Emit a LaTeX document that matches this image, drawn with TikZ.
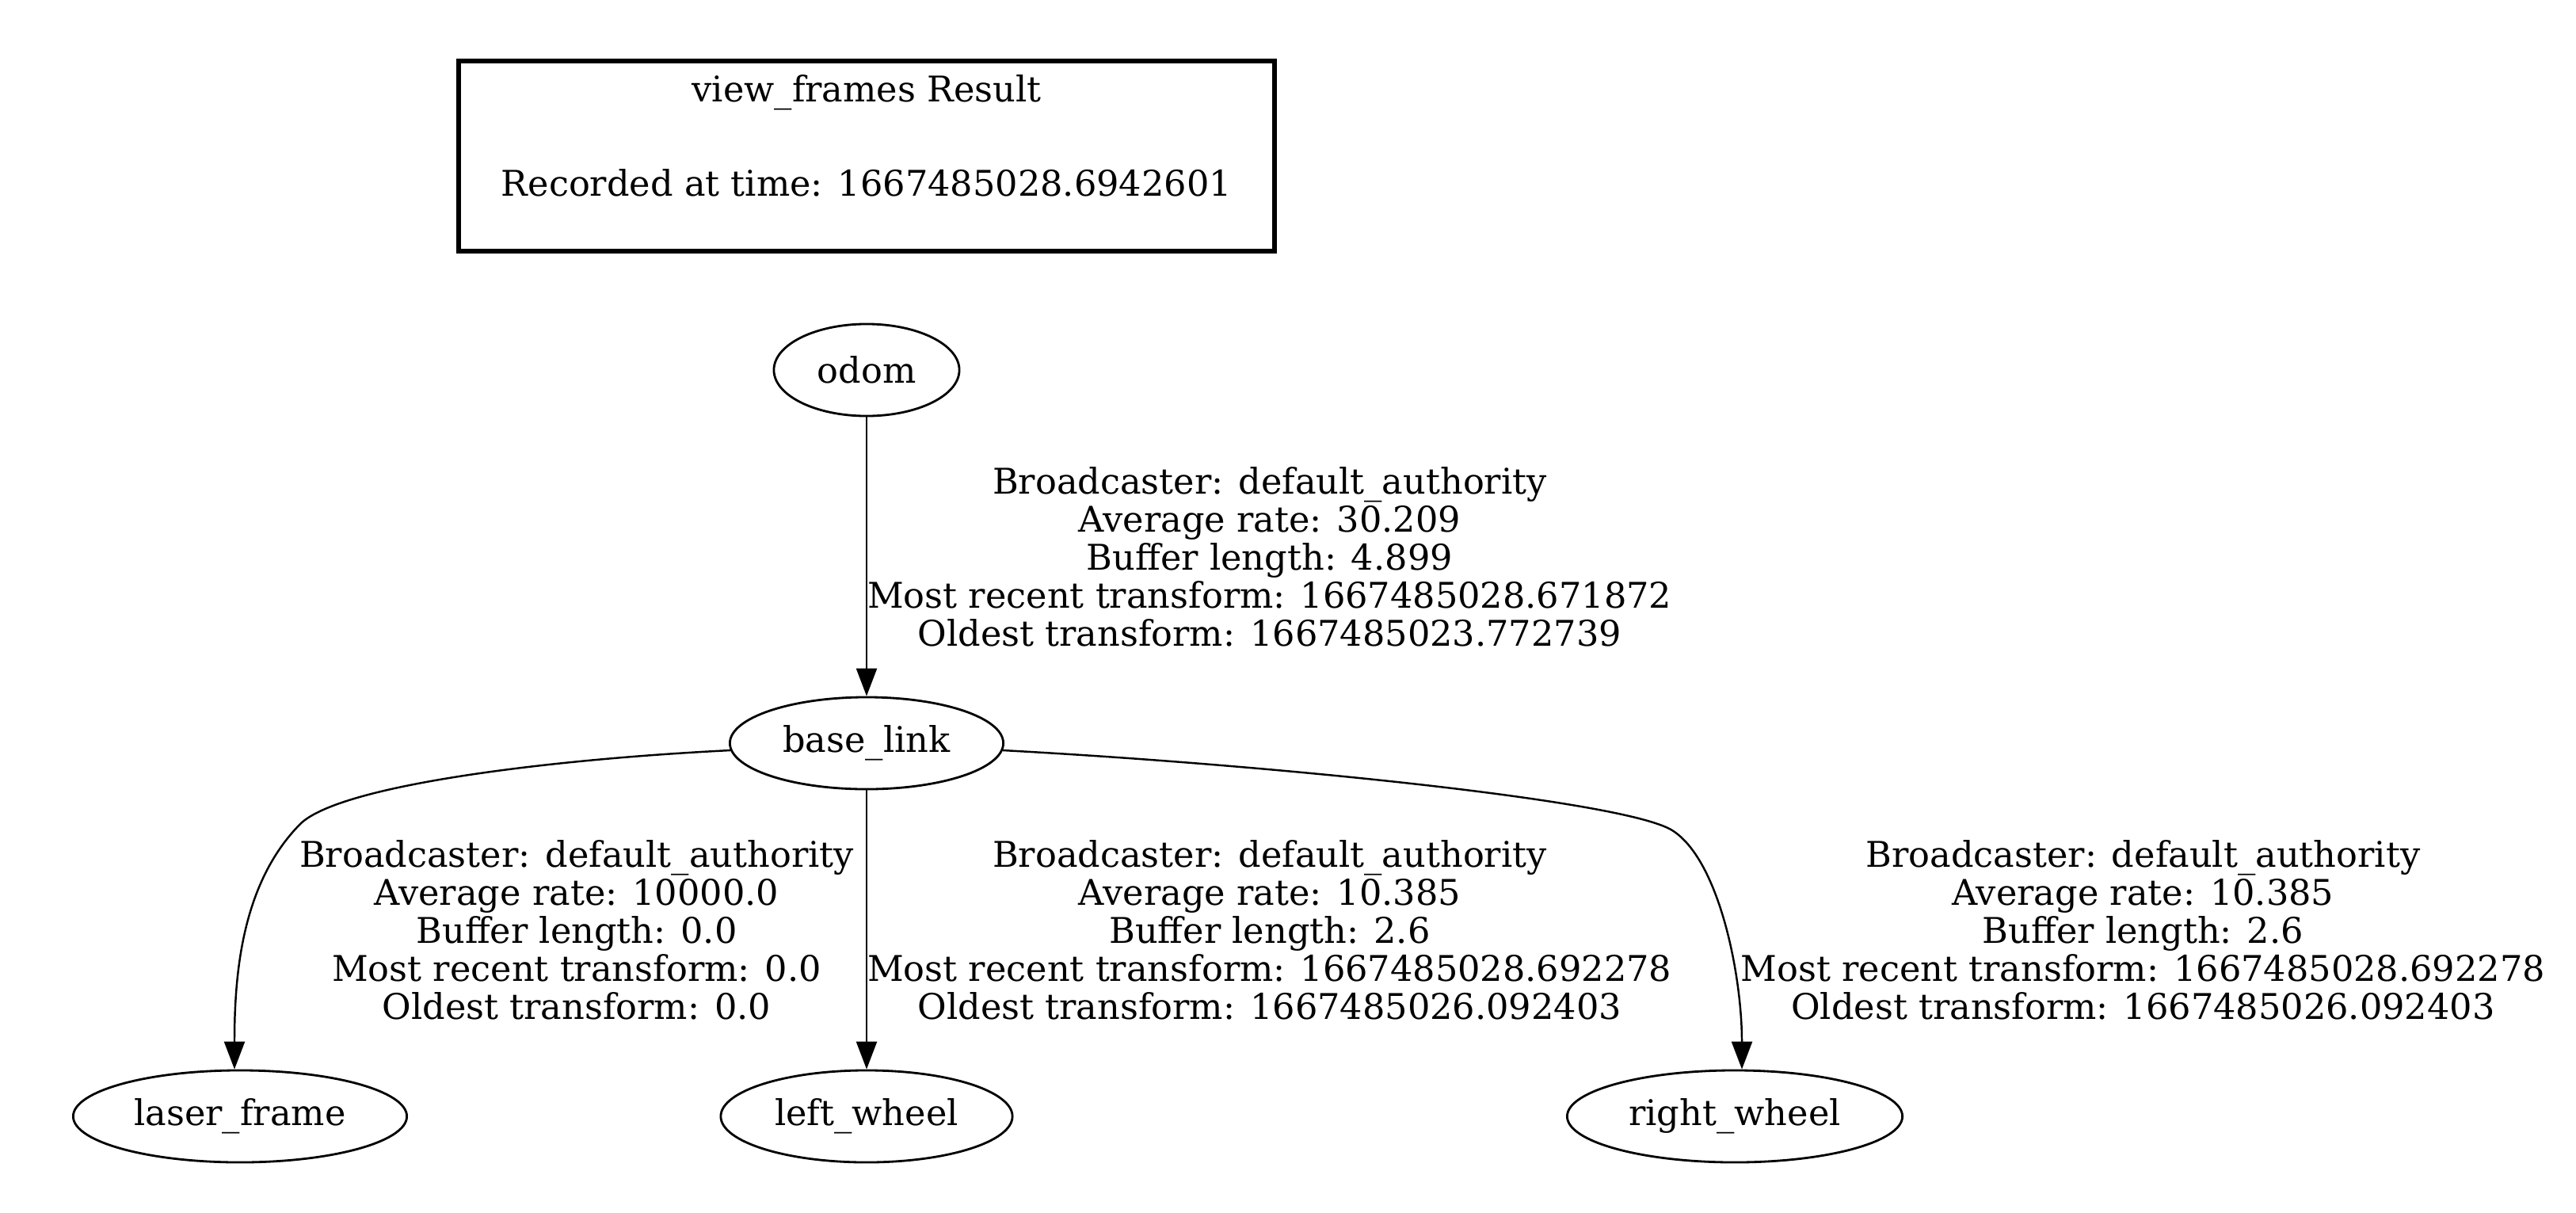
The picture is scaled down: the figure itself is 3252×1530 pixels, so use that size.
\documentclass[tikz,border=0pt]{standalone}
\usepackage{fontspec}
\setmainfont{DejaVu Serif}
\usetikzlibrary{shapes.geometric,arrows.meta}

\newcommand\gvfont{\fontsize{12.7pt}{13.66pt}\selectfont}

\begin{document}
\begin{tikzpicture}[x=0.01cm,y=-0.01cm,
  frame node/.style={ellipse,draw,line width=0.8pt,inner sep=0pt,minimum height=1.16cm,font=\gvfont},
  tf label/.style={align=center,inner sep=0pt,font=\gvfont},
  tf edge/.style={line width=0.7pt,-{Triangle[length=0.35cm,width=0.26cm]}}]

  \useasboundingbox (0,0) rectangle (3252,1530);

  \node[draw,line width=1.8pt,minimum width=10.3cm,minimum height=2.4cm,align=center,font=\gvfont] (title) at (1094,197)
    {view\_frames Result\\[20pt]Recorded at time: 1667485028.6942601\\[1.2pt]\mbox{}};

  \node[frame node,minimum width=2.34cm] (odom) at (1094,467) {odom};
  \node[frame node,minimum width=3.45cm] (base_link) at (1094,938) {base\_link};
  \node[frame node,minimum width=4.21cm] (laser_frame) at (303,1409) {laser\_frame};
  \node[frame node,minimum width=3.68cm] (left_wheel) at (1094,1409) {left\_wheel};
  \node[frame node,minimum width=4.23cm] (right_wheel) at (2190,1409) {right\_wheel};

  \draw[tf edge] (odom) -- node[tf label,anchor=west]
    {Broadcaster: default\_authority\\Average rate: 30.209\\Buffer length: 4.899\\Most recent transform: 1667485028.671872\\Oldest transform: 1667485023.772739} (base_link);
  \draw[tf edge] (base_link) -- node[tf label,anchor=west]
    {Broadcaster: default\_authority\\Average rate: 10.385\\Buffer length: 2.6\\Most recent transform: 1667485028.692278\\Oldest transform: 1667485026.092403} (left_wheel);
  \draw[tf edge] (base_link.183) .. controls (700,958) and (430,990) .. (379,1040)
    .. controls (305,1115) and (296,1230) .. ([xshift=-0.07cm]laser_frame.north);
  \draw[tf edge] (base_link.357) .. controls (1600,965) and (2050,1010) .. (2111,1048)
    .. controls (2170,1085) and (2199,1230) .. ([xshift=0.09cm]right_wheel.north);

  % labels of the curved edges
  \node[tf label] (laser_info) at (728,1174)
    {Broadcaster: default\_authority\\Average rate: 10000.0\\Buffer length: 0.0\\Most recent transform: 0.0\\Oldest transform: 0.0};
  \node[tf label,anchor=west] (right_info) at (2197,1174)
    {Broadcaster: default\_authority\\Average rate: 10.385\\Buffer length: 2.6\\Most recent transform: 1667485028.692278\\Oldest transform: 1667485026.092403};

\end{tikzpicture}
\end{document}
